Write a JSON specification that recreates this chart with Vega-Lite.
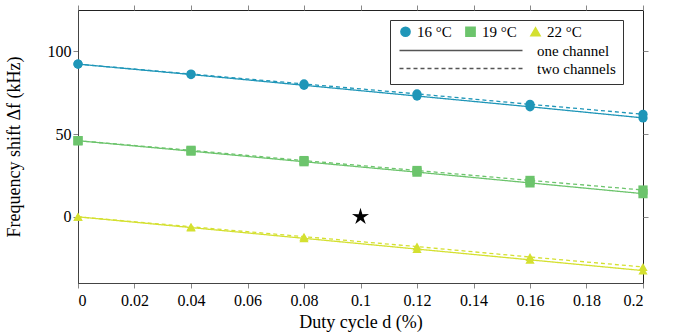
{
  "$schema": "https://vega.github.io/schema/vega-lite/v6.json",
  "width": 565,
  "height": 273,
  "autosize": "none",
  "padding": {"left": 78, "top": 10, "right": 34, "bottom": 50},
  "background": "white",
  "config": {
    "font": "Liberation Serif",
    "view": {"stroke": "#222", "strokeWidth": 1},
    "axis": {
      "grid": false,
      "domainColor": "#444",
      "tickColor": "#888",
      "tickSize": 5,
      "tickWidth": 1,
      "labelFont": "Liberation Serif",
      "titleFont": "Liberation Serif",
      "labelFontSize": 16,
      "labelColor": "black",
      "titleFontSize": 18,
      "titleFontWeight": "normal",
      "titleColor": "black"
    },
    "legend": {
      "labelFontSize": 15,
      "labelColor": "black",
      "labelFont": "Liberation Serif",
      "titleFont": "Liberation Serif"
    }
  },
  "datasets": {
    "main": [
      {"d": 0, "shift": 92.3, "temp": "16 °C", "channel": "one channel"},
      {"d": 0.04, "shift": 86, "temp": "16 °C", "channel": "one channel"},
      {"d": 0.08, "shift": 79.5, "temp": "16 °C", "channel": "one channel"},
      {"d": 0.12, "shift": 73, "temp": "16 °C", "channel": "one channel"},
      {"d": 0.16, "shift": 66.5, "temp": "16 °C", "channel": "one channel"},
      {"d": 0.2, "shift": 59.8, "temp": "16 °C", "channel": "one channel"},
      {"d": 0, "shift": 92.3, "temp": "16 °C", "channel": "two channels"},
      {"d": 0.04, "shift": 86.3, "temp": "16 °C", "channel": "two channels"},
      {"d": 0.08, "shift": 80.3, "temp": "16 °C", "channel": "two channels"},
      {"d": 0.12, "shift": 74.3, "temp": "16 °C", "channel": "two channels"},
      {"d": 0.16, "shift": 68, "temp": "16 °C", "channel": "two channels"},
      {"d": 0.2, "shift": 62, "temp": "16 °C", "channel": "two channels"},
      {"d": 0, "shift": 46, "temp": "19 °C", "channel": "one channel"},
      {"d": 0.04, "shift": 39.7, "temp": "19 °C", "channel": "one channel"},
      {"d": 0.08, "shift": 33.3, "temp": "19 °C", "channel": "one channel"},
      {"d": 0.12, "shift": 27, "temp": "19 °C", "channel": "one channel"},
      {"d": 0.16, "shift": 20.5, "temp": "19 °C", "channel": "one channel"},
      {"d": 0.2, "shift": 14, "temp": "19 °C", "channel": "one channel"},
      {"d": 0, "shift": 46, "temp": "19 °C", "channel": "two channels"},
      {"d": 0.04, "shift": 40.2, "temp": "19 °C", "channel": "two channels"},
      {"d": 0.08, "shift": 34, "temp": "19 °C", "channel": "two channels"},
      {"d": 0.12, "shift": 28, "temp": "19 °C", "channel": "two channels"},
      {"d": 0.16, "shift": 22, "temp": "19 °C", "channel": "two channels"},
      {"d": 0.2, "shift": 16.2, "temp": "19 °C", "channel": "two channels"},
      {"d": 0, "shift": 0, "temp": "22 °C", "channel": "one channel"},
      {"d": 0.04, "shift": -6.5, "temp": "22 °C", "channel": "one channel"},
      {"d": 0.08, "shift": -13, "temp": "22 °C", "channel": "one channel"},
      {"d": 0.12, "shift": -19.5, "temp": "22 °C", "channel": "one channel"},
      {"d": 0.16, "shift": -26, "temp": "22 °C", "channel": "one channel"},
      {"d": 0.2, "shift": -32.5, "temp": "22 °C", "channel": "one channel"},
      {"d": 0, "shift": 0, "temp": "22 °C", "channel": "two channels"},
      {"d": 0.04, "shift": -6, "temp": "22 °C", "channel": "two channels"},
      {"d": 0.08, "shift": -12, "temp": "22 °C", "channel": "two channels"},
      {"d": 0.12, "shift": -18, "temp": "22 °C", "channel": "two channels"},
      {"d": 0.16, "shift": -24.3, "temp": "22 °C", "channel": "two channels"},
      {"d": 0.2, "shift": -30.3, "temp": "22 °C", "channel": "two channels"}
    ],
    "star": [{"d": 0.1, "shift": 0}]
  },
  "layer": [
    {
      "data": {"name": "main"},
      "mark": {"type": "line", "strokeWidth": 1.3},
      "encoding": {
        "x": {"field": "d", "type": "quantitative", "scale": {"domain": [0, 0.2], "nice": false},
          "axis": {"orient": "bottom", "ticks": true, "values": [0, 0.02, 0.04, 0.06, 0.08, 0.1, 0.12, 0.14, 0.16, 0.18, 0.2], "format": "~g", "title": "Duty cycle d (%)", "titlePadding": 5, "labelPadding": 4, "labelFont": "Liberation Serif"}},
        "y": {"field": "shift", "type": "quantitative", "scale": {"domain": [-40, 125], "nice": false, "zero": false},
          "axis": {"orient": "left", "ticks": true, "values": [0, 50, 100], "title": "Frequency shift Δf (kHz)", "titlePadding": 24, "labelPadding": 2, "labelFont": "Liberation Serif"}},
        "color": {"field": "temp", "type": "nominal", "scale": {"domain": ["16 °C", "19 °C", "22 °C"], "range": ["#1f96b8", "#6cc46c", "#d4e030"]},
          "legend": {"orient": "none", "legendX": 320, "legendY": 14, "direction": "horizontal", "columns": 3, "title": null, "symbolSize": 85, "labelOffset": 4, "padding": 0, "columnPadding": 10, "labelLimit": 200, "labelFont": "Liberation Serif"}},
        "strokeDash": {"field": "channel", "type": "nominal", "scale": {"domain": ["one channel", "two channels"], "range": [[1, 0], [4, 3]]},
          "legend": {"orient": "none", "legendX": 312, "legendY": 10, "title": "\u00a0", "titleFontSize": 12, "titlePadding": 4, "symbolType": "M-1,0H23.6", "symbolSize": 100, "symbolStrokeColor": "#555", "symbolFillColor": "transparent", "symbolStrokeWidth": 1.3, "labelOffset": 125, "rowPadding": 2, "padding": 7, "strokeColor": "#333", "labelLimit": 200, "labelFont": "Liberation Serif"}},
        "detail": {"field": "channel"}
      }
    },
    {
      "data": {"name": "main"},
      "mark": {"type": "point", "filled": true, "opacity": 1, "size": 85},
      "encoding": {
        "x": {"field": "d", "type": "quantitative", "axis": {"orient": "top", "ticks": true, "tickColor": "#888", "labels": false, "title": null, "domain": false, "values": [0, 0.02, 0.04, 0.06, 0.08, 0.1, 0.12, 0.14, 0.16, 0.18, 0.2]}},
        "y": {"field": "shift", "type": "quantitative", "axis": {"orient": "right", "ticks": true, "tickColor": "#888", "labels": false, "title": null, "domain": false, "values": [0, 50, 100]}},
        "color": {"field": "temp", "type": "nominal"},
        "shape": {"field": "temp", "type": "nominal", "scale": {"domain": ["16 °C", "19 °C", "22 °C"], "range": ["circle", "square", "triangle-up"]},
          "legend": {"orient": "none", "legendX": 320, "legendY": 14, "direction": "horizontal", "columns": 3, "title": null, "symbolSize": 85, "labelOffset": 4, "padding": 0, "columnPadding": 10, "labelLimit": 200, "labelFont": "Liberation Serif"}}
      }
    },
    {
      "data": {"name": "star"},
      "mark": {"type": "point", "filled": true, "opacity": 1, "color": "black", "size": 320,
        "shape": "M0,-1L0.21,-0.29L0.951,-0.309L0.34,0.11L0.588,0.809L0,0.36L-0.588,0.809L-0.34,0.11L-0.951,-0.309L-0.21,-0.29Z"},
      "encoding": {
        "x": {"field": "d", "type": "quantitative", "axis": null},
        "y": {"field": "shift", "type": "quantitative", "axis": null}
      }
    }
  ],
  "resolve": {"axis": {"x": "independent", "y": "independent"}}
}
